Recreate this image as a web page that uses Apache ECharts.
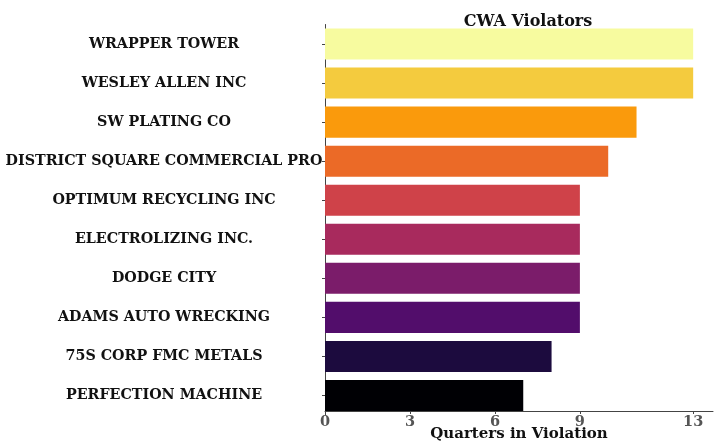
<!DOCTYPE html>
<html><head><meta charset="utf-8">
<script src="https://cdn.jsdelivr.net/npm/echarts@6/dist/echarts.min.js"></script>
<style>html,body{margin:0;padding:0;background:#fff}#c{width:715px;height:443px}</style>
</head><body><div id="c"></div>
<script>
const categories = ["WRAPPER TOWER","WESLEY ALLEN INC","SW PLATING CO","DISTRICT SQUARE COMMERCIAL PRO","OPTIMUM RECYCLING INC","ELECTROLIZING INC.","DODGE CITY","ADAMS AUTO WRECKING","75S CORP FMC METALS","PERFECTION MACHINE"];
const values = [13,13,11,10,9,9,9,9,8,7];
const colors = ["#f7fb9f","#f4cb3e","#fa9a0c","#eb6a27","#cf4249","#a82a5d","#7b1c6a","#520d6b","#1c0b3e","#000004"];
const xTicks = [0,3,6,9,13];
const font = "'DejaVu Serif', 'Liberation Serif', serif";
const chart = echarts.init(document.getElementById('c'), null, {renderer:'canvas'});
chart.setOption({
  animation:false,
  title:{text:'CWA Violators', left:523, top:9, textAlign:'center',
    textStyle:{fontFamily:font, fontWeight:'bold', fontSize:16, color:'#111'}},
  grid:{left:325, right:2, top:24.5, bottom:28, containLabel:false, outerBoundsMode:'none'},
  xAxis:{type:'value', min:0, max:13.7, offset:-4,
    name:'Quarters in Violation', nameLocation:'middle', nameGap:23, nameMoveOverlap:false,
    nameTextStyle:{fontFamily:font, fontWeight:'bold', fontSize:15, color:'#111', verticalAlign:'middle'},
    axisLine:{show:true, lineStyle:{color:'#444', width:1}},
    axisTick:{show:true, customValues:xTicks, length:3, lineStyle:{color:'#444'}},
    axisLabel:{customValues:xTicks, fontFamily:font, fontWeight:'bold', fontSize:14.5, color:'#555', margin:4},
    splitLine:{show:false}},
  yAxis:{type:'category', data:categories, inverse:true,
    axisLine:{show:true, lineStyle:{color:'#444', width:1}},
    axisTick:{show:true, alignWithLabel:true, length:3, lineStyle:{color:'#444'}},
    axisLabel:{fontFamily:font, fontWeight:'bold', fontSize:14.3, color:'#111', align:'center', margin:161}},
  series:[{type:'bar', barWidth:'79.5%',
    data: values.map((v,i)=>({value:v, itemStyle:{color:colors[i]}}))}]
});
</script></body></html>
